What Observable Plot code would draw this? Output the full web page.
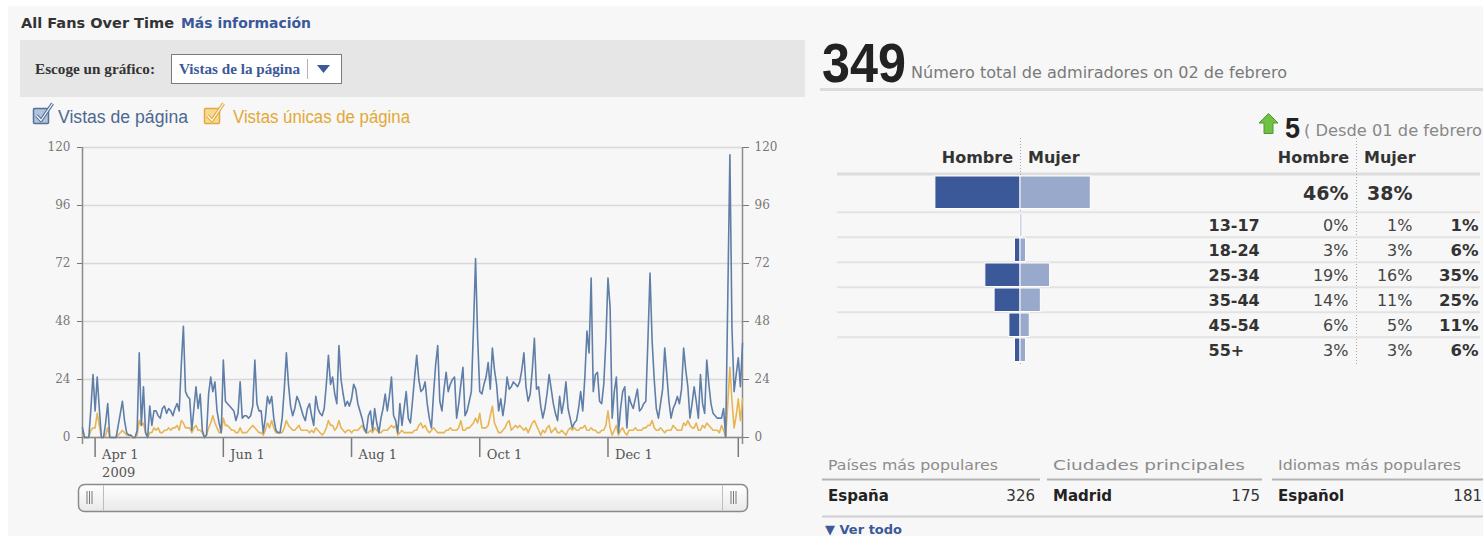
<!DOCTYPE html>
<html><head><meta charset="utf-8">
<script src="https://cdn.jsdelivr.net/npm/d3@7"></script>
<script src="https://cdn.jsdelivr.net/npm/@observablehq/plot@0.6"></script>
<style>
html,body{margin:0;padding:0;background:#fff;}
#page{position:relative;width:1483px;height:536px;overflow:hidden;background:#fff;}
#page svg{position:absolute;}
</style></head><body><div id="page"></div>
<script>
// ---------------- data ----------------
const startDate = "2009-03-26";
const pageViews = [
 4,0,0,0,12,26,11,25,12,0,
 0,6,14,0,0,0,0,5,10,15,
 7,2,1,1,0,0,3,35,5,21,
 2,0,13,5,11,11,9,8,12,13,
 10,12,11,9,12,14,11,30,46,19,
 17,16,3,12,21,12,18,3,0,1,
 18,25,19,23,11,6,2,32,15,14,
 13,12,11,7,10,23,8,9,9,8,
 9,13,32,14,11,11,2,8,17,14,
 17,8,3,2,2,8,20,35,22,13,
 9,12,17,15,12,9,7,12,14,9,
 5,17,12,10,9,12,22,34,22,25,
 18,14,38,24,18,13,15,13,16,22,
 20,14,11,8,4,2,9,11,3,12,
 6,2,8,12,18,11,17,25,9,7,
 2,14,5,12,19,8,6,15,25,34,
 24,19,20,23,14,8,4,18,30,38,
 15,11,20,27,19,22,24,25,8,14,
 22,29,9,11,15,19,45,74,41,19,
 18,22,25,31,20,37,28,22,11,16,
 9,15,25,20,21,23,22,21,23,28,
 35,21,15,18,28,41,20,21,13,8,
 12,18,26,20,14,10,7,17,10,15,
 23,12,8,4,6,7,12,19,11,25,
 44,35,66,19,26,27,15,14,22,40,
 66,54,8,19,25,2,12,19,21,4,
 17,14,12,16,20,11,12,14,15,40,
 68,40,24,12,8,14,20,37,26,15,
 8,12,14,17,14,20,37,28,21,8,
 14,21,15,8,26,14,10,32,22,14,
 10,9,8,8,8,12,0,58,117,45,
 19,26,33,21,39
];
const uniquePageViews = [
 1,0,0,0,3,4,4,10,5,0,
 0,1,4,0,0,0,0,1,2,3,
 2,1,1,0,0,0,1,7,5,6,
 2,0,2,2,4,3,4,2,2,3,
 3,4,3,4,4,5,3,7,6,4,
 4,4,2,4,5,3,3,2,0,1,
 4,6,9,6,4,2,2,8,5,5,
 4,3,3,2,2,4,2,2,2,3,
 4,5,4,3,2,2,1,3,6,4,
 7,4,2,2,2,2,4,7,5,4,
 3,3,4,5,3,3,3,3,2,3,
 2,4,3,2,1,2,4,7,5,5,
 3,4,7,4,3,2,3,3,2,3,
 3,3,4,5,3,2,2,3,2,4,
 3,2,2,3,3,3,4,5,4,5,
 1,2,3,2,2,2,2,2,3,3,
 5,6,4,5,3,2,3,4,3,2,
 2,2,2,3,3,4,3,3,3,4,
 7,3,3,4,4,5,6,8,6,10,
 4,4,4,5,9,13,6,4,2,2,
 3,4,6,7,3,4,5,4,5,4,
 3,4,2,4,6,7,5,3,1,3,
 2,4,5,2,3,4,2,2,3,2,
 1,3,4,3,4,3,3,4,4,5,
 3,3,4,3,3,2,2,3,3,5,
 11,4,1,3,5,1,3,4,2,1,
 3,3,3,4,3,3,3,4,4,5,
 5,7,4,3,3,4,3,2,3,3,
 3,5,4,3,3,3,6,5,7,5,
 4,4,6,3,3,5,4,6,5,4,
 3,3,3,2,5,3,0,14,29,15,
 4,9,16,7,16
];
const seriesNames = ["Vistas de página", "Vistas únicas de página"];
const yTicks = [0, 24, 48, 72, 96, 120];
const xTickDates = ["2009-04-01","2009-06-01","2009-08-01","2009-10-01","2009-12-01","2010-02-01"];
const xTickLabels = ["Apr 1","Jun 1","Aug 1","Oct 1","Dec 1",""];
const firstYear = "2009";

const totalFans = "349";
const totalFansText = "Número total de admiradores on 02 de febrero";
const fanChange = "5";
const fanChangeText = "( Desde 01 de febrero";
const genderLabels = ["Hombre", "Mujer"];
const maleTotal = 46;
const femaleTotal = 38;
const ageGroups = ["13-17","18-24","25-34","35-44","45-54","55+"];
const malePct   = [0, 3, 19, 14, 6, 3];
const femalePct = [1, 3, 16, 11, 5, 3];
const totalPct  = [1, 6, 35, 25, 11, 6];

const listTitles = ["Países más populares", "Ciudades principales", "Idiomas más populares"];
const listNames  = ["España", "Madrid", "Español"];
const listValues = [326, 175, 181];

// ---------------- page decoration ----------------
const W = 1483, H = 536;
const page = d3.select("#page");
const deco = page.append("svg").attr("width", W).attr("height", H).style("left", "0px").style("top", "0px");
function rect(x, y, w, h, fill, stroke, sw, rx) {
  const r = deco.append("rect").attr("x", x).attr("y", y).attr("width", w).attr("height", h).attr("fill", fill);
  if (stroke) r.attr("stroke", stroke).attr("stroke-width", sw || 1);
  if (rx) r.attr("rx", rx);
  return r;
}
function line(x1, y1, x2, y2, stroke, sw, dash) {
  const l = deco.append("line").attr("x1", x1).attr("y1", y1).attr("x2", x2).attr("y2", y2)
    .attr("stroke", stroke).attr("stroke-width", sw || 1);
  if (dash) l.attr("stroke-dasharray", dash);
  return l;
}
function txt(x, y, s, o = {}) {
  const t = deco.append("text").attr("x", x).attr("y", y).text(s)
    .attr("font-family", o.family || "DejaVu Sans").attr("font-size", o.size || 14)
    .attr("font-weight", o.weight || "normal").attr("fill", o.fill || "#333")
    .attr("text-anchor", o.anchor || "start");
  if (o.len) t.attr("textLength", o.len).attr("lengthAdjust", "spacingAndGlyphs");
  return t;
}
rect(8, 6, W - 8, H - 6, "#f7f7f7");

// left header
txt(21, 28, "All Fans Over Time", {weight: "bold", size: 14, fill: "#333", len: 153});
txt(181, 28, "Más información", {weight: "bold", size: 14, fill: "#3b5998", len: 130});
rect(20, 40, 785, 57, "#e6e6e6");
txt(35, 74, "Escoge un gráfico:", {family: "Liberation Serif", weight: "bold", size: 15, fill: "#333", len: 120});
rect(171.5, 54.5, 170, 29, "#fff", "#7b7b7b", 1);
txt(179, 74, "Vistas de la página", {family: "Liberation Serif", weight: "bold", size: 15, fill: "#3b5998", len: 121});
line(307.5, 59, 307.5, 79, "#b5b5b5", 1);
deco.append("polygon").attr("points", "317,65 330,65 323.5,73").attr("fill", "#3b5998");

// legend checkboxes
function checkbox(x, fill, stroke) {
  rect(x + 0.5, 108.5, 15, 15, fill, stroke, 1.5, 1);
  deco.append("path").attr("d", `M${x+3.5} 115.5 L${x+8} 120.5 L${x+19.5} 103.5`).attr("fill", "none")
    .attr("stroke", stroke).attr("stroke-width", 3.4).attr("stroke-linejoin", "round");
  deco.append("path").attr("d", `M${x+3.5} 115.5 L${x+8} 120.5 L${x+19.5} 103.5`).attr("fill", "none")
    .attr("stroke", "#fff").attr("stroke-width", 1.2).attr("stroke-linejoin", "round");
}
checkbox(33, "#b3c3d9", "#55729a");
txt(58, 123, seriesNames[0], {family: "Liberation Sans", size: 17.5, fill: "#4d6891", len: 130});
checkbox(204, "#f7d995", "#e2ab3e");
txt(233, 123, seriesNames[1], {family: "Liberation Sans", size: 17.5, fill: "#e3a834", len: 177});

// range slider
const grad = deco.append("defs").append("linearGradient").attr("id", "sl").attr("x1", 0).attr("x2", 0).attr("y1", 0).attr("y2", 1);
grad.append("stop").attr("offset", "0").attr("stop-color", "#ffffff");
grad.append("stop").attr("offset", "1").attr("stop-color", "#e9e9e9");
rect(78.5, 484.5, 669, 27, "url(#sl)", "#8a8a8a", 1.5, 6);
line(103.5, 485.5, 103.5, 510.5, "#bdbdbd", 1);
line(722.5, 485.5, 722.5, 510.5, "#bdbdbd", 1);
for (const gx of [87, 89.5, 92, 731, 733.5, 736]) line(gx, 491, gx, 504, "#777", 1);

// right header
txt(822, 82, totalFans, {family: "Liberation Sans", weight: "bold", size: 55, fill: "#222", len: 84});
txt(911, 78, totalFansText, {size: 15, fill: "#7a7a7a", len: 376});
line(820, 89.5, 1483, 89.5, "#dcdcdc", 3);
deco.append("polygon").attr("points", "1268.5,113.5 1278,123 1273,123 1273,133.5 1264,133.5 1264,123 1259,123")
  .attr("fill", "#70c043").attr("stroke", "#4f9a2c").attr("stroke-width", 1);
txt(1285, 138, fanChange, {family: "Liberation Sans", weight: "bold", size: 29, fill: "#222", len: 15});
txt(1304, 136, fanChangeText, {size: 15, fill: "#888", len: 178});

// demographic table header
txt(1013, 163, genderLabels[0], {weight: "bold", size: 16, anchor: "end"});
txt(1028, 163, genderLabels[1], {weight: "bold", size: 16});
txt(1349, 163, genderLabels[0], {weight: "bold", size: 16, anchor: "end"});
txt(1364, 163, genderLabels[1], {weight: "bold", size: 16});
line(837, 174, 1480, 174, "#dddddd", 3);
line(1020.5, 138, 1020.5, 364, "#aaaaaa", 1, "1,2");
line(1356.5, 138, 1356.5, 364, "#aaaaaa", 1, "1,2");

// bottom lists
const colX = [828, 1053, 1278], lineX = [[822, 1040], [1047, 1262], [1272, 1483]], valX = [1035, 1260, 1482];
const titleLen = [170, 192, 183];
listTitles.forEach((t, i) => {
  txt(colX[i], 470, t, {size: 14.5, fill: "#8c8c8c", len: titleLen[i]});
  line(lineX[i][0], 479.5, lineX[i][1], 479.5, "#b3b3b3", 2);
  txt(colX[i], 501, listNames[i], {weight: "bold", size: 15, fill: "#222"});
  txt(valX[i], 501, String(listValues[i]), {size: 15, fill: "#333", anchor: "end"});
});
line(822, 516.5, 1483, 516.5, "#cfcfcf", 2);
txt(825, 534, "▼ Ver todo", {weight: "bold", size: 13, fill: "#3b5998"});

// ---------------- line chart ----------------
const parse = d3.utcParse("%Y-%m-%d");
const t0 = parse(startDate);
const viewsData = pageViews.map((v, i) => ({date: d3.utcDay.offset(t0, i), value: v}));
const uniqueData = uniquePageViews.map((v, i) => ({date: d3.utcDay.offset(t0, i), value: v}));
const xDomain = [t0, d3.utcDay.offset(t0, pageViews.length - 1)];
const xTicks = xTickDates.map(parse);

const chart = Plot.plot({
  width: 790, height: 350,
  marginLeft: 82, marginRight: 48, marginTop: 17, marginBottom: 43,
  style: {background: "transparent", fontFamily: "DejaVu Serif", fontSize: "12px", overflow: "visible"},
  x: {type: "utc", domain: xDomain},
  y: {domain: [0, 120]},
  marks: [
    Plot.gridY({ticks: yTicks, stroke: "#d8d8d8", strokeOpacity: 1, strokeWidth: 1.3}),
    Plot.axisY({ticks: yTicks, anchor: "left", tickSize: 5, tickPadding: 7, color: "#777", label: null}),
    Plot.axisY({ticks: yTicks, anchor: "right", tickSize: 6, tickPadding: 6, color: "#777", label: null}),
    Plot.axisX({ticks: xTicks, tickSize: 20, tickFormat: () => "", color: "#7a7a7a", strokeWidth: 1.5, label: null}),
    Plot.ruleX(xDomain, {y1: 0, y2: 120, insetTop: 7, stroke: "#8a8a8a", strokeWidth: 1.5}),
    Plot.ruleY([0], {stroke: "#8a8a8a", strokeWidth: 1.5}),
    Plot.text(xTicks, {x: d => d, text: (d, i) => i === 0 ? xTickLabels[i] + "\n" + firstYear : xTickLabels[i],
      frameAnchor: "bottom", textAnchor: "start", lineAnchor: "top", dx: 7, dy: 9, fontSize: 13, fill: "#555", lineHeight: 1.38}),
    Plot.lineY(uniqueData, {x: "date", y: "value", stroke: "#e8b553", strokeWidth: 1.6}),
    Plot.lineY(viewsData, {x: "date", y: "value", stroke: "#5f7ea8", strokeWidth: 1.6})
  ]
});
chart.style.left = "0px"; chart.style.top = "130px";
page.node().appendChild(chart);

// ---------------- population pyramid + table ----------------
const maleColor = "#3b5998", femaleColor = "#98a9cb";
const k = 1.85, pyrLeft = 837, pyrRight = 1480, pyrCenter = 1020;
const pyrW = pyrRight - pyrLeft;
const pyrX = {domain: [-(pyrCenter - pyrLeft) / k, (pyrRight - pyrCenter) / k], axis: null};
const col = {label: 1208 - pyrLeft, male: 1348 - pyrLeft, female: 1412 - pyrLeft, total: 1478 - pyrLeft};
const pStyle = {background: "transparent", fontFamily: "DejaVu Sans", fontSize: "16px", color: "#333", overflow: "visible"};

const totalPlot = Plot.plot({
  width: pyrW, height: 35, margin: 0, x: pyrX, style: pStyle,
  marks: [
    Plot.barX([maleTotal], {x1: d => -d, x2: d => 0, fill: maleColor, stroke: "#fff", strokeWidth: 1, insetTop: 1, insetBottom: 1.5}),
    Plot.barX([femaleTotal], {x1: d => 0, x2: d => d, fill: femaleColor, stroke: "#fff", strokeWidth: 1, insetTop: 1, insetBottom: 1.5}),
    Plot.text([maleTotal], {text: d => d + "%", frameAnchor: "left", dx: col.male, dy: 1, textAnchor: "end", fontWeight: "bold", fontSize: 19, fill: "#333"}),
    Plot.text([femaleTotal], {text: d => d + "%", frameAnchor: "left", dx: col.female, dy: 1, textAnchor: "end", fontWeight: "bold", fontSize: 19, fill: "#333"})
  ]
});
totalPlot.style.left = pyrLeft + "px"; totalPlot.style.top = "175px";
page.node().appendChild(totalPlot);

const rows = ageGroups.map((g, i) => ({group: g, male: malePct[i], female: femalePct[i], total: totalPct[i]}));
const ageH = 153;
const agePlot = Plot.plot({
  width: pyrW, height: ageH, margin: 0, x: pyrX, style: pStyle,
  y: {domain: ageGroups, padding: 0, axis: null},
  marks: [
    Plot.ruleY(rows, {y: "group", dy: -ageH / ageGroups.length / 2, stroke: "#e3e3e3", strokeWidth: 2}),
    Plot.barX(rows, {y: "group", x1: d => -d.male, x2: d => 0, fill: maleColor, stroke: "#fff", strokeWidth: 1, insetTop: 1, insetBottom: 0.5}),
    Plot.barX(rows, {y: "group", x1: d => 0, x2: d => d.female, fill: femaleColor, stroke: "#fff", strokeWidth: 1, insetTop: 1, insetBottom: 0.5}),
    Plot.text(rows, {y: "group", text: "group", frameAnchor: "left", dx: col.label, dy: 1, textAnchor: "start", fontWeight: "bold", fill: "#333"}),
    Plot.text(rows, {y: "group", text: d => d.male + "%", frameAnchor: "left", dx: col.male, dy: 1, textAnchor: "end", fill: "#444"}),
    Plot.text(rows, {y: "group", text: d => d.female + "%", frameAnchor: "left", dx: col.female, dy: 1, textAnchor: "end", fill: "#444"}),
    Plot.text(rows, {y: "group", text: d => d.total + "%", frameAnchor: "left", dx: col.total, dy: 1, textAnchor: "end", fontWeight: "bold", fontSize: 16.5, fill: "#333"})
  ]
});
agePlot.style.left = pyrLeft + "px"; agePlot.style.top = "210px";
page.node().appendChild(agePlot);
</script>
</body></html>
